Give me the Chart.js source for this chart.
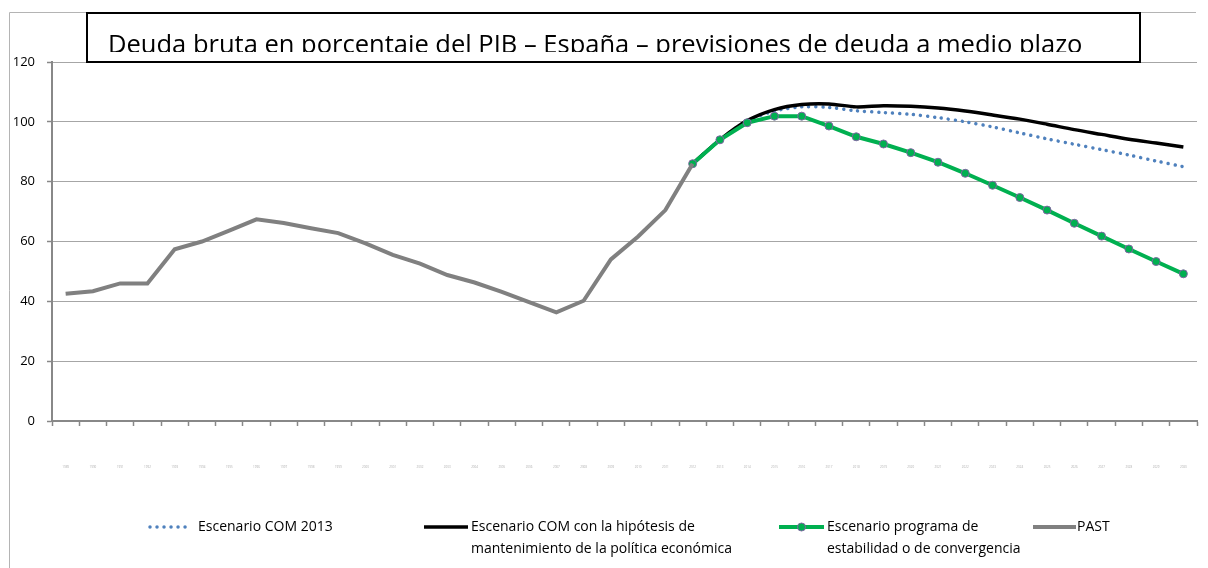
<!DOCTYPE html>
<html><head><meta charset="utf-8">
<script src="https://cdn.jsdelivr.net/npm/chart.js@4.4.1/dist/chart.umd.min.js"></script>
<style>html,body{margin:0;padding:0;background:#fff}canvas{display:block}</style>
</head><body>
<canvas id="c" width="1208" height="568"></canvas>
<script>
// ---------- data ----------
const years = [1989,1990,1991,1992,1993,1994,1995,1996,1997,1998,1999,2000,2001,2002,2003,2004,2005,2006,2007,2008,2009,2010,2011,2012,2013,2014,2015,2016,2017,2018,2019,2020,2021,2022,2023,2024,2025,2026,2027,2028,2029,2030];
const yTickValues = [0,20,40,60,80,100,120];
const titleText = "Deuda bruta en porcentaje del PIB – España – previsiones de deuda a medio plazo";
const seriesNames = ["Escenario COM 2013","Escenario COM con la hipótesis de mantenimiento de la política económica","Escenario programa de estabilidad o de convergencia","PAST"];
const legendLines = [
  ["Escenario COM 2013"],
  ["Escenario COM con la hipótesis de","mantenimiento de la política económica"],
  ["Escenario programa de","estabilidad o de convergencia"],
  ["PAST"]
];
const pastValues = [42.5,43.4,46.0,46.0,57.4,60.0,63.6,67.4,66.2,64.4,62.8,59.4,55.5,52.6,48.8,46.3,43.2,39.7,36.3,40.2,54.0,61.7,70.5,86.0,
  null,null,null,null,null,null,null,null,null,null,null,null,null,null,null,null,null,null];
const com2013Values = [null,null,null,null,null,null,null,null,null,null,null,null,null,null,null,null,null,null,null,null,null,null,null,
  86.0,94.0,100.3,103.6,105.0,104.8,103.7,103.1,102.5,101.4,100.0,98.3,96.3,94.3,92.5,90.7,88.9,86.9,85.0];
const comPolicyValues = [null,null,null,null,null,null,null,null,null,null,null,null,null,null,null,null,null,null,null,null,null,null,null,
  86.0,94.0,100.4,104.1,105.8,106.0,105.0,105.4,105.2,104.6,103.6,102.3,100.9,99.2,97.4,95.8,94.2,92.9,91.6];
const programaValues = [null,null,null,null,null,null,null,null,null,null,null,null,null,null,null,null,null,null,null,null,null,null,null,
  86.0,94.0,99.7,101.9,101.9,98.6,95.0,92.6,89.7,86.5,82.8,78.8,74.7,70.5,66.1,61.8,57.5,53.3,49.2];

// ---------- styles ----------
const FONT = "'Open Sans', 'DejaVu Sans', sans-serif";

const decor = {
  id: 'decor',
  afterDraw(chart) {
    const ctx = chart.ctx;
    ctx.save();
    // outer chart border (left + top)
    ctx.strokeStyle = '#b4b4b4';
    ctx.lineWidth = 1;
    ctx.beginPath();
    ctx.moveTo(9.5, 568); ctx.lineTo(9.5, 12.5); ctx.lineTo(1196, 12.5);
    ctx.stroke();

    // title box
    const bx = 87, by = 13, bw = 1053, bh = 49;
    ctx.fillStyle = '#fff';
    ctx.fillRect(bx, by, bw, bh);
    ctx.strokeStyle = '#000';
    ctx.lineWidth = 2;
    ctx.strokeRect(bx, by, bw, bh);
    ctx.save();
    ctx.beginPath();
    ctx.rect(bx + 1, by + 1, bw - 2, 52 - by - 1);
    ctx.clip();
    ctx.font = '27px ' + FONT;
    const w = ctx.measureText(titleText).width;
    const fs = 27 * 975 / w;
    ctx.font = fs.toFixed(2) + 'px ' + FONT;
    ctx.fillStyle = '#000';
    ctx.textBaseline = 'alphabetic';
    ctx.textAlign = 'left';
    ctx.fillText(titleText, 108, 53);
    ctx.restore();

    // legend
    const ds = chart.data.datasets;
    const items = [
      {d: ds[0], x0: 150, x1: 189, tx: 198},
      {d: ds[1], x0: 424, x1: 468, tx: 471},
      {d: ds[2], x0: 779, x1: 824, tx: 827},
      {d: ds[3], x0: 1033, x1: 1076, tx: 1077}
    ];
    const rowY = [527, 549];
    items.forEach((it, i) => {
      const d = it.d;
      ctx.save();
      ctx.strokeStyle = d.borderColor;
      ctx.lineWidth = d.borderWidth;
      ctx.lineCap = d.borderCapStyle || 'butt';
      ctx.setLineDash(d.borderDash || []);
      ctx.beginPath();
      ctx.moveTo(it.x0, rowY[0]); ctx.lineTo(it.x1, rowY[0]);
      ctx.stroke();
      ctx.restore();
      if (d.pointRadius > 0) {
        ctx.save();
        ctx.beginPath();
        ctx.arc((it.x0 + it.x1) / 2, rowY[0], d.pointRadius, 0, Math.PI * 2);
        ctx.fillStyle = d.pointBackgroundColor;
        ctx.fill();
        ctx.lineWidth = d.pointBorderWidth;
        ctx.strokeStyle = d.pointBorderColor;
        ctx.stroke();
        ctx.restore();
      }
      ctx.fillStyle = '#000';
      ctx.font = '14px ' + FONT;
      ctx.textBaseline = 'middle';
      ctx.textAlign = 'left';
      legendLines[i].forEach((ln, k) => ctx.fillText(ln, it.tx, rowY[k]));
    });
    ctx.restore();
  }
};

new Chart(document.getElementById('c'), {
  type: 'line',
  data: {
    labels: years,
    datasets: [
      { label: seriesNames[0], data: com2013Values, borderColor: '#4F81BD', borderWidth: 3.5,
        borderDash: [0.01, 7], borderCapStyle: 'round', pointRadius: 0, tension: 0.3, order: 4 },
      { label: seriesNames[1], data: comPolicyValues, borderColor: '#000000', borderWidth: 3.5,
        pointRadius: 0, tension: 0.3, order: 3 },
      { label: seriesNames[2], data: programaValues, borderColor: '#00B050', borderWidth: 4,
        pointRadius: 4, pointBackgroundColor: '#00B050', pointBorderColor: '#8064A2', pointBorderWidth: 1,
        tension: 0, order: 2 },
      { label: seriesNames[3], data: pastValues, borderColor: '#808080', borderWidth: 4,
        pointRadius: 0, tension: 0, order: 1 }
    ]
  },
  options: {
    responsive: false,
    animation: false,
    devicePixelRatio: 1,
    layout: { padding: { left: 0, right: 11, top: 62, bottom: 0 } },
    plugins: { legend: { display: false }, title: { display: false }, tooltip: { enabled: false } },
    scales: {
      x: {
        type: 'category',
        offset: true,
        afterFit(s) { s.height = 147; s.paddingLeft = 0; s.paddingRight = 0; },
        grid: { offset: true, drawOnChartArea: false, drawTicks: true, tickLength: 5, tickColor: '#888', tickWidth: 1.5 },
        border: { display: true, color: '#888', width: 2 },
        ticks: { autoSkip: false, maxRotation: 0, minRotation: 0, padding: 39, color: '#b0b0b0',
                 font: { size: 3, family: FONT } }
      },
      y: {
        min: 0, max: 120,
        afterFit(s) { s.width = 52; },
        afterBuildTicks(s) { s.ticks = yTickValues.map(v => ({ value: v })); },
        grid: { color: '#a6a6a6', lineWidth: 1, tickLength: 5, tickColor: '#888', tickWidth: 1.5 },
        border: { display: true, color: '#888', width: 2 },
        ticks: { padding: 12, color: '#000', font: { size: 13, family: FONT } }
      }
    }
  },
  plugins: [decor]
});
</script>
</body></html>
